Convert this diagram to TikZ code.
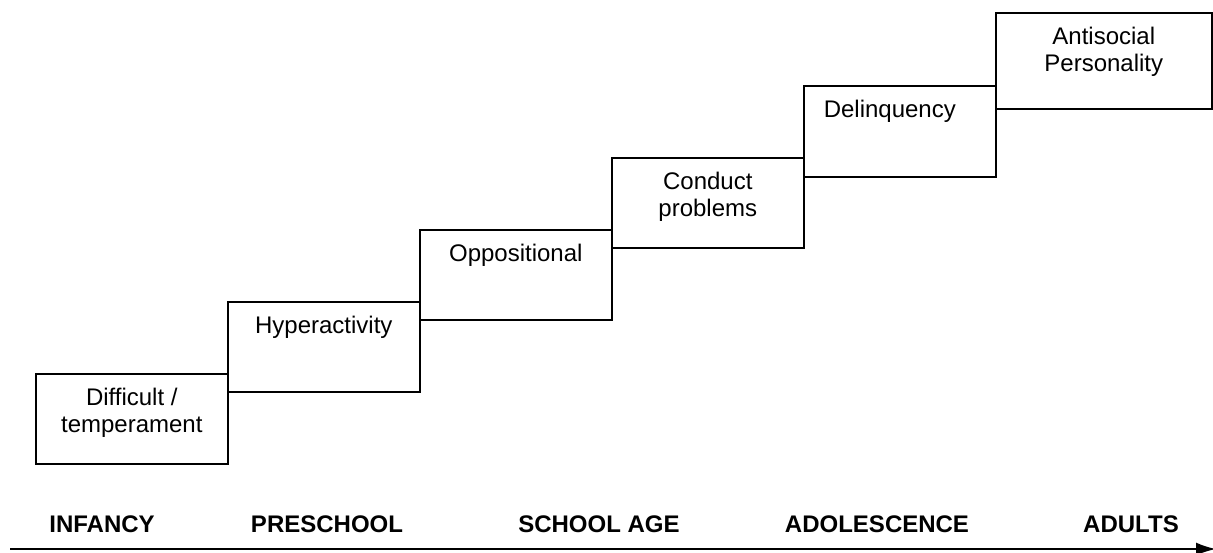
\documentclass[tikz,border=0pt]{standalone}
\usepackage{fontspec}
\setmainfont{Liberation Sans}
\usetikzlibrary{arrows.meta}
\tikzset{
  stage/.style={draw=black, line width=1.6pt, rectangle, inner sep=0pt, anchor=north west, minimum width=192pt, minimum height=90pt},
  stagetext/.style={anchor=north, inner sep=0pt, align=center, font=\fontsize{24}{26.5}\selectfont},
  period/.style={anchor=base, inner sep=0pt, font=\fontsize{24}{28}\selectfont\bfseries},
  timeline/.style={line width=2pt, -{Latex[length=20pt,width=13pt]}}
}
\begin{document}
\begin{tikzpicture}[x=1pt,y=-1pt]
\useasboundingbox (0,0) rectangle (1213,552);
% stage boxes
\node[stage] (b1) at (35,373) {};
\node[stage] (b2) at (227,301) {};
\node[stage] (b3) at (419,229) {};
\node[stage] (b4) at (611,157) {};
\node[stage, minimum height=91pt] (b5) at (803,85) {};
\node[stage, minimum width=216pt, minimum height=96pt] (b6) at (995,12) {};
% texts
\node[stagetext] (t1) at ([yshift=-15pt]b1.north) {Difficult /\\temperament};
\node[stagetext] (t2) at ([yshift=-15pt]b2.north) {Hyperactivity};
\node[stagetext] (t3) at ([yshift=-15pt]b3.north) {Oppositional};
\node[stagetext] (t4) at ([yshift=-15pt]b4.north) {Conduct\\problems};
\node[stagetext] (t5) at ([xshift=-10pt,yshift=-15pt]b5.north) {Delinquency};
\node[stagetext] (t6) at ([yshift=-15pt]b6.north) {Antisocial\\Personality};
% periods
\node[period] (p1) at (102,532) {INFANCY};
\node[period] (p2) at (327,532) {PRESCHOOL};
\node[period] (p3) at (599,532) {SCHOOL AGE};
\node[period] (p4) at (877,532) {ADOLESCENCE};
\node[period] (p5) at (1131,532) {ADULTS};
% time axis
\coordinate (axstart) at (10,549);
\coordinate (axend) at (1216,549);
\draw[timeline] (axstart) -- (axend);
\end{tikzpicture}
\end{document}
